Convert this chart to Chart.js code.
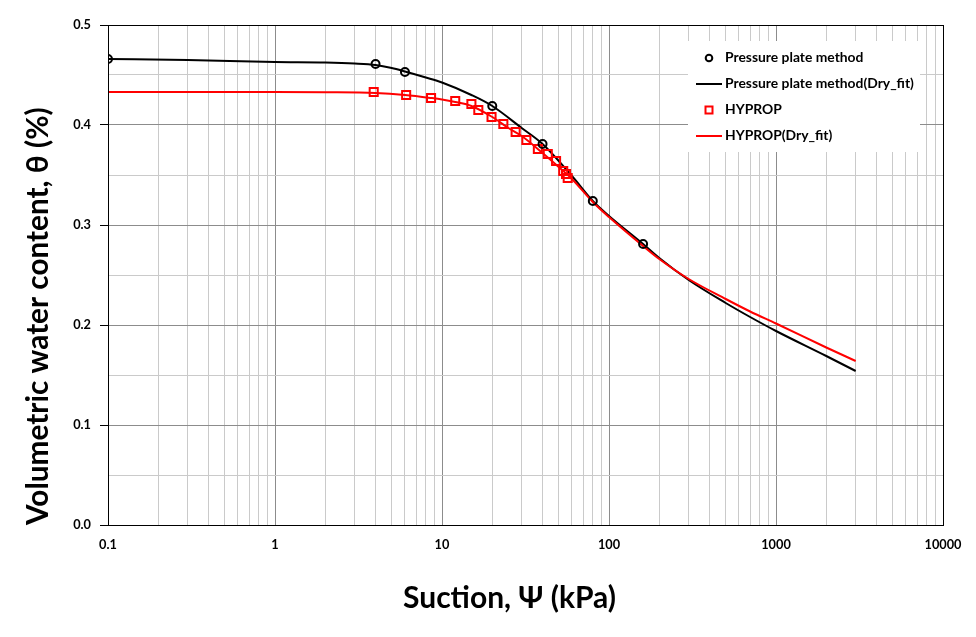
<!DOCTYPE html>
<html>
<head>
<meta charset="utf-8">
<script src="https://cdn.jsdelivr.net/npm/chart.js@4/dist/chart.umd.min.js"></script>
<style>
html,body{margin:0;padding:0;background:#fff;}
#wrap{width:976px;height:637px;position:relative;}
</style>
</head>
<body>
<div id="wrap"><canvas id="c" width="976" height="637"></canvas></div>
<script>
// ---------------- data ----------------
const ppSuction = [0.1, 4, 6, 20, 40, 80, 160];
const ppTheta   = [0.466, 0.461, 0.453, 0.419, 0.381, 0.324, 0.281];

const ppFitSuction = [0.1, 0.3, 1, 2, 3, 4, 5, 6, 8, 10, 15, 20, 30, 40, 60, 80, 100, 160, 200, 300, 500, 700, 1000, 2000, 3000];
const ppFitTheta   = [0.466, 0.465, 0.463, 0.4625, 0.4615, 0.460, 0.457, 0.4535, 0.4475, 0.4425, 0.430, 0.419, 0.397, 0.381, 0.349, 0.324, 0.309, 0.281, 0.267, 0.245, 0.222, 0.208, 0.194, 0.169, 0.154];

const hySuction = [3.9, 6.1, 8.6, 12, 15, 16.5, 19.8, 23.3, 27.6, 32, 37.5, 43, 48.2, 53.2, 55.3, 56.6];
const hyTheta   = [0.433, 0.430, 0.427, 0.424, 0.421, 0.415, 0.408, 0.401, 0.393, 0.385, 0.376, 0.371, 0.364, 0.354, 0.351, 0.347];

const hyFitSuction = [0.1, 1, 2, 4, 6, 8.6, 10, 12, 15, 20, 25, 30, 40, 50, 60, 80, 100, 160, 200, 300, 500, 700, 1000, 2000, 3000];
const hyFitTheta   = [0.433, 0.433, 0.4328, 0.432, 0.430, 0.427, 0.4255, 0.423, 0.419, 0.408, 0.397, 0.389, 0.372, 0.358, 0.346, 0.323, 0.308, 0.279, 0.266, 0.246, 0.226, 0.2135, 0.2015, 0.1775, 0.164];

const seriesLabels = ['Pressure plate method', 'Pressure plate method(Dry_fit)', 'HYPROP', 'HYPROP(Dry_fit)'];
const xTickLabels = ['0.1', '1', '10', '100', '1000', '10000'];
const yTickLabels = ['0.0', '0.1', '0.2', '0.3', '0.4', '0.5'];
const xTitle = 'Suction, \u03A8 (kPa)';
const yTitle = 'Volumetric water content, \u03B8 (%)';

// ---------------- helpers ----------------
const FONT = 'Lato, "Liberation Sans", "DejaVu Sans", sans-serif';
const mctx = document.createElement('canvas').getContext('2d');
function fitSize(text, target) {
  mctx.font = 'bold 100px ' + FONT;
  return 100 * target / mctx.measureText(text).width;
}
const tickSize = fitSize('10000', 37);
const legendSize = fitSize(seriesLabels[1], 189);
const xTitleSize = fitSize(xTitle, 213);
const yTitleSize = fitSize(yTitle, 418);

const pts = (xs, ys) => xs.map((x, i) => ({x: x, y: ys[i]}));

// log-scale grid: 1..9 x 10^e for each decade, labels on decades
const xGrid = [];
for (let d = 0; d < xTickLabels.length; d++) {
  const base = Number(xTickLabels[d]);
  const kMax = d === xTickLabels.length - 1 ? 1 : 9;
  for (let k = 1; k <= kMax; k++) {
    xGrid.push({value: Number((k * base).toPrecision(6)), label: k === 1 ? xTickLabels[d] : '', major: k === 1});
  }
}
// linear grid every 0.05, labels every 0.1
const yGrid = [];
for (let i = 0; i <= 10; i++) {
  yGrid.push({value: Number((i * 0.05).toFixed(2)), label: i % 2 === 0 ? yTickLabels[i / 2] : '', major: i % 2 === 0});
}

const MAJOR_GRID = '#8c8c8c';
const MINOR_GRID = '#cacaca';

// ---------------- plugins ----------------
const frameAndLegend = {
  id: 'frameAndLegend',
  afterDraw(chart) {
    const {ctx, chartArea: a} = chart;
    ctx.save();
    // plot frame
    ctx.strokeStyle = '#000';
    ctx.lineWidth = 1;
    ctx.strokeRect(Math.round(a.left) + 0.5, Math.round(a.top) + 0.5, Math.round(a.right - a.left), Math.round(a.bottom - a.top));

    // legend box inside plot area (top right)
    const bx = a.right - 255, by = a.top + 16, bw = 232, bh = 111;
    ctx.fillStyle = '#fff';
    ctx.fillRect(bx, by, bw, bh);
    ctx.font = 'bold ' + legendSize + 'px ' + FONT;
    ctx.textBaseline = 'middle';
    ctx.textAlign = 'left';
    chart.data.datasets.forEach((ds, i) => {
      const y = by + 17 + i * 26;
      const mx = bx + 21;
      ctx.strokeStyle = ds.borderColor;
      ctx.lineWidth = 2;
      ctx.beginPath();
      if (ds.showLine) {
        ctx.moveTo(bx + 8, y);
        ctx.lineTo(bx + 34, y);
      } else if (ds.pointStyle === 'rect') {
        ctx.rect(mx - 3.5, y - 3.5, 7, 7);
      } else {
        ctx.arc(mx, y, 3.3, 0, Math.PI * 2);
      }
      ctx.stroke();
      ctx.fillStyle = '#000';
      ctx.fillText(ds.label, bx + 37, y);
    });

    // x-axis title
    ctx.font = 'bold ' + xTitleSize + 'px ' + FONT;
    ctx.textAlign = 'center';
    ctx.textBaseline = 'middle';
    ctx.fillStyle = '#000';
    ctx.fillText(xTitle, a.left + 401.5, a.bottom + 73);
    ctx.restore();
  }
};

// ---------------- chart ----------------
new Chart(document.getElementById('c'), {
  type: 'scatter',
  data: {
    datasets: [
      {
        label: seriesLabels[0],
        data: pts(ppSuction, ppTheta),
        pointStyle: 'circle',
        pointRadius: 4,
        pointBorderWidth: 2,
        borderColor: '#000000',
        pointBorderColor: '#000000',
        backgroundColor: 'rgba(0,0,0,0)',
        pointBackgroundColor: 'rgba(0,0,0,0)',
        showLine: false,
        order: 0
      },
      {
        label: seriesLabels[1],
        data: pts(ppFitSuction, ppFitTheta),
        showLine: true,
        borderColor: '#000000',
        borderWidth: 2,
        pointRadius: 0,
        cubicInterpolationMode: 'monotone',
        fill: false,
        order: 3
      },
      {
        label: seriesLabels[2],
        data: pts(hySuction, hyTheta),
        pointStyle: 'rect',
        pointRadius: 5.7,
        pointBorderWidth: 2,
        borderColor: '#ff0000',
        pointBorderColor: '#ff0000',
        backgroundColor: 'rgba(0,0,0,0)',
        pointBackgroundColor: 'rgba(0,0,0,0)',
        showLine: false,
        order: 1
      },
      {
        label: seriesLabels[3],
        data: pts(hyFitSuction, hyFitTheta),
        showLine: true,
        borderColor: '#ff0000',
        borderWidth: 2,
        pointRadius: 0,
        cubicInterpolationMode: 'monotone',
        fill: false,
        order: 2
      }
    ]
  },
  options: {
    responsive: false,
    animation: false,
    devicePixelRatio: 1,
    layout: {padding: {left: 0, right: 33, top: 25, bottom: 0}},
    plugins: {
      legend: {display: false},
      tooltip: {enabled: false},
      title: {display: false}
    },
    scales: {
      x: {
        type: 'logarithmic',
        position: 'bottom',
        min: 0.1,
        max: 10000,
        afterBuildTicks: (s) => { s.ticks = xGrid.map(t => ({value: t.value})); },
        afterFit: (s) => { s.height = 112; },
        border: {display: true, color: '#000', width: 1},
        grid: {
          drawTicks: false,
          color: (c) => (c.index !== undefined && xGrid[c.index] && xGrid[c.index].major) ? MAJOR_GRID : MINOR_GRID,
          lineWidth: 1
        },
        ticks: {
          autoSkip: false,
          maxRotation: 0,
          minRotation: 0,
          padding: 12,
          color: '#000',
          font: {family: FONT, size: tickSize, weight: 'bold'},
          callback: (v, i) => xGrid[i] ? xGrid[i].label : ''
        },
        title: {display: false, text: xTitle}
      },
      y: {
        type: 'linear',
        position: 'left',
        min: 0,
        max: 0.5,
        afterBuildTicks: (s) => { s.ticks = yGrid.map(t => ({value: t.value})); },
        afterFit: (s) => { s.width = 108; },
        border: {display: true, color: '#000', width: 1},
        grid: {
          drawTicks: true,
          tickLength: 8,
          tickColor: (c) => (c.index !== undefined && yGrid[c.index] && yGrid[c.index].major) ? '#000' : 'rgba(0,0,0,0)',
          color: (c) => (c.index !== undefined && yGrid[c.index] && yGrid[c.index].major) ? MAJOR_GRID : MINOR_GRID,
          lineWidth: 1
        },
        ticks: {
          autoSkip: false,
          padding: 9,
          color: '#000',
          font: {family: FONT, size: tickSize, weight: 'bold'},
          callback: (v, i) => yGrid[i] ? yGrid[i].label : ''
        },
        title: {
          display: true,
          text: yTitle,
          align: 'start',
          color: '#000',
          padding: {top: 21, bottom: 0},
          font: {family: FONT, size: yTitleSize, weight: 'bold'}
        }
      }
    }
  },
  plugins: [frameAndLegend]
});
</script>
</body>
</html>
